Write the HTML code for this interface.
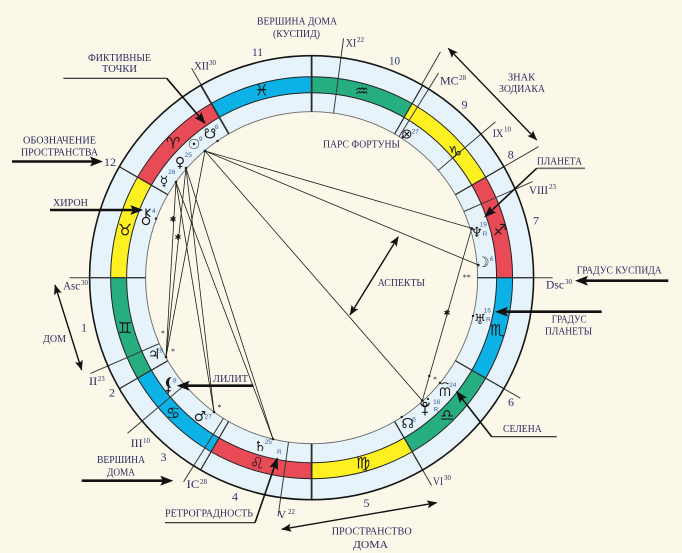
<!DOCTYPE html>
<html><head><meta charset="utf-8">
<style>
html,body{margin:0;padding:0;background:#fbf8e9;}
svg{display:block;}
.l{font-family:"Liberation Serif",serif;font-size:11px;fill:#2b2a5c;}
.n{font-family:"Liberation Serif",serif;font-size:12px;fill:#2a3270;}
.c{font-family:"Liberation Serif",serif;font-size:12px;fill:#2b2a5c;}
.s{font-family:"Liberation Serif",serif;font-size:7px;fill:#2b2a5c;}
.g{font-family:"DejaVu Sans",sans-serif;font-size:14px;fill:#1a1a1a;text-anchor:middle;}
.z{font-family:"DejaVu Sans",sans-serif;font-size:16px;fill:#1a1a1a;text-anchor:middle;}
.d{font-family:"Liberation Sans",sans-serif;font-size:6.5px;fill:#3f5fa3;text-anchor:middle;}
.a{font-family:"Liberation Serif",serif;font-size:8px;fill:#222;text-anchor:middle;}
</style></head><body>
<svg width="682" height="553" viewBox="0 0 682 553" xmlns="http://www.w3.org/2000/svg">
<defs>
<marker id="big" viewBox="0 0 13 10" refX="7" refY="5" markerWidth="13" markerHeight="10" markerUnits="userSpaceOnUse" orient="auto"><path d="M0,0 L13,5 L0,10 L2.5,5 Z" fill="#111"/></marker>
<marker id="md" viewBox="0 0 12 9" refX="11" refY="4.5" markerWidth="12" markerHeight="9" markerUnits="userSpaceOnUse" orient="auto"><path d="M0,0 L12,4.5 L0,9 L2,4.5 Z" fill="#111"/></marker>
<marker id="sm" viewBox="0 0 10 8" refX="9.5" refY="4" markerWidth="10" markerHeight="8" markerUnits="userSpaceOnUse" orient="auto-start-reverse"><path d="M0,0 L10,4 L0,8 L2,4 Z" fill="#111"/></marker>
</defs>
<rect width="682" height="553" fill="#fbf8e9"/>

<g transform="translate(311.6,277.7)">
  <circle r="222" fill="#e7f3fb"/>
  <g>
    <path d="M201,0 A201,201 0 0 0 174.07,-100.5 L160.21,-92.5 A185,185 0 0 1 185,0 Z" fill="#e84b55" transform="rotate(0)"/>
    <path d="M201,0 A201,201 0 0 0 174.07,-100.5 L160.21,-92.5 A185,185 0 0 1 185,0 Z" fill="#fff022" transform="rotate(-30)"/>
    <path d="M201,0 A201,201 0 0 0 174.07,-100.5 L160.21,-92.5 A185,185 0 0 1 185,0 Z" fill="#26ad80" transform="rotate(-60)"/>
    <path d="M201,0 A201,201 0 0 0 174.07,-100.5 L160.21,-92.5 A185,185 0 0 1 185,0 Z" fill="#0cb2e6" transform="rotate(-90)"/>
    <path d="M201,0 A201,201 0 0 0 174.07,-100.5 L160.21,-92.5 A185,185 0 0 1 185,0 Z" fill="#e84b55" transform="rotate(-120)"/>
    <path d="M201,0 A201,201 0 0 0 174.07,-100.5 L160.21,-92.5 A185,185 0 0 1 185,0 Z" fill="#fff022" transform="rotate(-150)"/>
    <path d="M201,0 A201,201 0 0 0 174.07,-100.5 L160.21,-92.5 A185,185 0 0 1 185,0 Z" fill="#26ad80" transform="rotate(-180)"/>
    <path d="M201,0 A201,201 0 0 0 174.07,-100.5 L160.21,-92.5 A185,185 0 0 1 185,0 Z" fill="#0cb2e6" transform="rotate(-210)"/>
    <path d="M201,0 A201,201 0 0 0 174.07,-100.5 L160.21,-92.5 A185,185 0 0 1 185,0 Z" fill="#e84b55" transform="rotate(-240)"/>
    <path d="M201,0 A201,201 0 0 0 174.07,-100.5 L160.21,-92.5 A185,185 0 0 1 185,0 Z" fill="#fff022" transform="rotate(-270)"/>
    <path d="M201,0 A201,201 0 0 0 174.07,-100.5 L160.21,-92.5 A185,185 0 0 1 185,0 Z" fill="#26ad80" transform="rotate(-300)"/>
    <path d="M201,0 A201,201 0 0 0 174.07,-100.5 L160.21,-92.5 A185,185 0 0 1 185,0 Z" fill="#0cb2e6" transform="rotate(-330)"/>
  </g>
  <circle r="166" fill="#fbf8e9" stroke="#6a6a6a" stroke-width="0.9"/>
  <circle r="201" fill="none" stroke="#222" stroke-width="1"/>
  <circle r="185" fill="none" stroke="#222" stroke-width="1"/>

  <g stroke="#3a3a3a" stroke-width="1">
    <line x1="166" x2="242" transform="rotate(-180)"/>
    <line x1="166" x2="241" transform="rotate(-203.4)"/>
    <line x1="166" x2="241" transform="rotate(-220.2)"/>
    <line x1="166" x2="241" transform="rotate(-237.9)"/>
    <line x1="166" x2="241" transform="rotate(-262)"/>
    <line x1="166" x2="240" transform="rotate(-300)"/>
    <line x1="166" x2="241" transform="rotate(0)"/>
    <line x1="166" x2="241" transform="rotate(-23.5)"/>
    <line x1="166" x2="241" transform="rotate(-40.3)"/>
    <line x1="166" x2="241" transform="rotate(-58.2)"/>
    <line x1="166" x2="241.5" transform="rotate(-82.4)"/>
    <line x1="166" x2="241.5" transform="rotate(-119.8)"/>
    <line x1="222" x2="262" transform="rotate(-30)"/>
    <line x1="222" x2="260" transform="rotate(-60.3)"/>
    <line x1="222" x2="241" transform="rotate(-330)"/>
  </g>
  <g stroke="#2a2a2a" stroke-width="1.2">
    <line x1="166" x2="222" transform="rotate(0)"/>
    <line x1="166" x2="222" transform="rotate(-30)"/>
    <line x1="166" x2="222" transform="rotate(-60)"/>
    <line x1="166" x2="222" transform="rotate(-90)" stroke-width="1.8"/>
    <line x1="166" x2="222" transform="rotate(-120)"/>
    <line x1="166" x2="222" transform="rotate(-150)"/>
    <line x1="166" x2="222" transform="rotate(-180)"/>
    <line x1="166" x2="222" transform="rotate(-210)"/>
    <line x1="166" x2="222" transform="rotate(-240)"/>
    <line x1="166" x2="222" transform="rotate(-270)" stroke-width="1.8"/>
    <line x1="166" x2="222" transform="rotate(-300)"/>
    <line x1="166" x2="222" transform="rotate(-330)"/>
  </g>
  <circle r="222" fill="none" stroke="#151515" stroke-width="1.6"/>
</g>

<!-- zodiac glyphs -->
<g class="z">
  <text x="261.7" y="95.5">&#x2653;&#xFE0E;</text>
  <text x="361.7" y="96.5">&#x2652;&#xFE0E;</text>
  <text x="455" y="157.5">&#x2651;&#xFE0E;</text>
  <text x="500" y="235.5">&#x2650;&#xFE0E;</text>
  <text x="497" y="335.5">&#x264F;&#xFE0E;</text>
  <text x="447" y="420.5">&#x264E;&#xFE0E;</text>
  <text x="363" y="468.5">&#x264D;&#xFE0E;</text>
  <text x="257" y="468.5">&#x264C;&#xFE0E;</text>
  <text x="173" y="418.5">&#x264B;&#xFE0E;</text>
  <text x="125" y="333.5">&#x264A;&#xFE0E;</text>
  <text x="125" y="235.5">&#x2649;&#xFE0E;</text>
  <text x="173" y="148.5">&#x2648;&#xFE0E;</text>
</g>

<!-- aspect lines -->
<g stroke="#1e1e1e" stroke-width="0.8">
  <line x1="176" y1="182" x2="166" y2="357"/>
  <line x1="186" y1="168" x2="166" y2="357"/>
  <line x1="205" y1="151" x2="166" y2="357"/>
  <line x1="176" y1="182" x2="214" y2="412"/>
  <line x1="186" y1="168" x2="214" y2="412"/>
  <line x1="176" y1="182" x2="273" y2="439"/>
  <line x1="186" y1="168" x2="273" y2="439"/>
  <line x1="205" y1="151" x2="471.7" y2="228.3"/>
  <line x1="205" y1="151" x2="478.3" y2="265"/>
  <line x1="205" y1="151" x2="422.3" y2="400.7"/>
  <line x1="422.3" y1="400.7" x2="471.7" y2="228.3"/>
</g>
<g fill="#1e1e1e">
  <circle cx="205" cy="151" r="1.4"/><circle cx="186" cy="168" r="1.3"/><circle cx="176" cy="182" r="1.3"/>
  <circle cx="217.5" cy="141" r="1.2"/><circle cx="156" cy="218.7" r="1.2"/><circle cx="166" cy="357" r="1.3"/>
  <circle cx="214" cy="412" r="1.3"/><circle cx="273" cy="439" r="1.3"/><circle cx="401.7" cy="417" r="1.2"/>
  <circle cx="422.3" cy="400.7" r="1.4"/><circle cx="428" cy="399" r="1.1"/><circle cx="440" cy="383" r="1.2"/>
  <circle cx="473" cy="316" r="1.2"/><circle cx="478.3" cy="265" r="1.3"/><circle cx="471.7" cy="228.3" r="1.3"/>
  <circle cx="402.7" cy="137.3" r="1.2"/><circle cx="429.3" cy="376" r="1.2"/>
</g>
<g stroke="#111" stroke-width="1.2">
  <path d="M173,216 L173,222 M170.4,217.5 L175.6,220.5 M170.4,220.5 L175.6,217.5"/>
  <path d="M178,234 L178,240 M175.4,235.5 L180.6,238.5 M175.4,238.5 L180.6,235.5"/>
  <path d="M447,309.7 L447,315.7 M444.4,311.2 L449.6,314.2 M444.4,314.2 L449.6,311.2"/>
</g>
<g class="a">
  <text x="163" y="336">*</text>
  <text x="173" y="354">*</text>
  <text x="219.5" y="410">*</text>
  <text x="435" y="382">*</text>
  <text x="466.7" y="280">**</text>
</g>

<!-- planet glyphs -->
<g class="g">
  <text x="210" y="138.5">&#x260B;&#xFE0E;</text>
  <text x="194" y="149">&#x2609;&#xFE0E;</text>
  <text x="180" y="167">&#x2640;&#xFE0E;</text>
  <text x="164" y="186">&#x263F;&#xFE0E;</text>
  <text x="154" y="359">&#x2643;&#xFE0E;</text>
  <text x="200" y="421">&#x2642;&#xFE0E;</text>
  <text x="260" y="451">&#x2644;&#xFE0E;</text>
  <text x="407.7" y="428">&#x260A;&#xFE0E;</text>
  <text x="480" y="324">&#x2645;&#xFE0E;</text>
  <text x="483.3" y="267">&#x263D;&#xFE0E;</text>
  <text x="476.7" y="237">&#x2646;&#xFE0E;</text>
  <text x="406.7" y="138.5">&#x2297;</text>
</g>
<!-- Pluto (circle over crescent over cross) -->
<g stroke="#1a1a1a" stroke-width="1.2" fill="none">
  <circle cx="425" cy="404.3" r="1.9"/>
  <path d="M420.8,402.5 A4.2,4.2 0 0 0 429.2,402.5"/>
  <path d="M425,406.8 L425,415.5 M422.2,412.3 L427.8,412.3"/>
</g>
<!-- Chiron -->
<g stroke="#1a1a1a" stroke-width="1.2" fill="none">
  <circle cx="146" cy="221" r="3.6"/>
  <path d="M146,217.4 L146,208.5 M146,213 L150.5,208.8 M146,213 L150.3,216.8"/>
</g>
<!-- Lilith -->
<g>
  <path d="M171.5,377 A5.6,5.6 0 1 0 171.5,388.2 A7.5,7.5 0 0 1 171.5,377 Z" fill="#1a1a1a"/>
  <path d="M168.3,387.5 L168.3,393.5 M166,390.7 L170.6,390.7" stroke="#1a1a1a" stroke-width="1.3"/>
</g>
<!-- Selena -->
<g stroke="#1a1a1a" stroke-width="1.1" fill="none">
  <path d="M441.5,384 Q445,381.5 448.5,384"/>
  <path d="M440.5,396 L440.5,389.5 Q442.7,386 445,389.5 L445,396 M445,389.5 Q447.3,386 449.5,389.5 L449.5,396"/>
</g>

<!-- planet degrees -->
<g class="d">
  <text x="216.7" y="129">6</text>
  <text x="200.7" y="140.8">9</text>
  <text x="188.3" y="156.8">25</text>
  <text x="171.7" y="174.2">26</text>
  <text x="153.8" y="213.2">4</text>
  <text x="159.5" y="352.5">29</text>
  <text x="174.8" y="382.5">8</text>
  <text x="208.3" y="418.5">27</text>
  <text x="268.3" y="444.2">25</text>
  <text x="279.3" y="454.2">R</text>
  <text x="414" y="421.5">6</text>
  <text x="436.7" y="404.2">16</text>
  <text x="436" y="411.5">R</text>
  <text x="452.7" y="386.8">24</text>
  <text x="487.3" y="312.5">16</text>
  <text x="488.3" y="321.5">R</text>
  <text x="491.7" y="260.8">6</text>
  <text x="483.3" y="226.5">19</text>
  <text x="485" y="235.8">R</text>
  <text x="415.3" y="133.5">27</text>
</g>

<!-- house numbers -->
<g class="n">
  <text x="252" y="56" textLength="11" lengthAdjust="spacingAndGlyphs">11</text>
  <text x="389" y="64.5" textLength="11" lengthAdjust="spacingAndGlyphs">10</text>
  <text x="461.5" y="108.5">9</text>
  <text x="507.7" y="158.5">8</text>
  <text x="533" y="224.5">7</text>
  <text x="104" y="166" textLength="12" lengthAdjust="spacingAndGlyphs">12</text>
  <text x="81" y="331.5">1</text>
  <text x="109" y="396.5">2</text>
  <text x="160.5" y="461">3</text>
  <text x="232" y="500.5">4</text>
  <text x="363.5" y="507">5</text>
  <text x="508" y="406">6</text>
</g>

<!-- cusp labels -->
<g class="c">
  <text x="194" y="69.5" textLength="15" lengthAdjust="spacingAndGlyphs">XII</text>
  <text x="345.7" y="46.5" textLength="10.5" lengthAdjust="spacingAndGlyphs">XI</text>
  <text x="440" y="84.5" textLength="18.7" lengthAdjust="spacingAndGlyphs">MC</text>
  <text x="492.7" y="136.8" textLength="10.6" lengthAdjust="spacingAndGlyphs">IX</text>
  <text x="529" y="193.8" textLength="19" lengthAdjust="spacingAndGlyphs">VIII</text>
  <text x="546" y="288.5" textLength="18" lengthAdjust="spacingAndGlyphs">Dsc</text>
  <text x="433" y="485" textLength="10" lengthAdjust="spacingAndGlyphs">VI</text>
  <text x="278" y="518.5" textLength="8" lengthAdjust="spacingAndGlyphs">V</text>
  <text x="186.7" y="488" textLength="12.6" lengthAdjust="spacingAndGlyphs">IC</text>
  <text x="130.7" y="447" textLength="12" lengthAdjust="spacingAndGlyphs">III</text>
  <text x="89" y="385" textLength="8.3" lengthAdjust="spacingAndGlyphs">II</text>
  <text x="63.3" y="289.5" textLength="16.7" lengthAdjust="spacingAndGlyphs">Asc</text>
</g>
<g class="s">
  <text x="209" y="65">30</text>
  <text x="357" y="42">22</text>
  <text x="459" y="80">28</text>
  <text x="504" y="131.5">10</text>
  <text x="549" y="189">23</text>
  <text x="565" y="284">30</text>
  <text x="444" y="480">30</text>
  <text x="288" y="514">22</text>
  <text x="200" y="484">28</text>
  <text x="143" y="443">10</text>
  <text x="97.7" y="381">23</text>
  <text x="81" y="285">30</text>
</g>

<!-- annotation labels -->
<g class="l">
  <text x="257" y="24.4" textLength="80" lengthAdjust="spacingAndGlyphs">ВЕРШИНА ДОМА</text>
  <text x="273" y="37" textLength="47" lengthAdjust="spacingAndGlyphs">(КУСПИД)</text>
  <text x="88" y="61" textLength="63" lengthAdjust="spacingAndGlyphs">ФИКТИВНЫЕ</text>
  <text x="102" y="72" textLength="35" lengthAdjust="spacingAndGlyphs">ТОЧКИ</text>
  <text x="23" y="143.7" textLength="73" lengthAdjust="spacingAndGlyphs">ОБОЗНАЧЕНИЕ</text>
  <text x="21" y="155.4" textLength="77" lengthAdjust="spacingAndGlyphs">ПРОСТРАНСТВА</text>
  <text x="53" y="206" textLength="35" lengthAdjust="spacingAndGlyphs">ХИРОН</text>
  <text x="43" y="342" textLength="23" lengthAdjust="spacingAndGlyphs">ДОМ</text>
  <text x="213" y="382" textLength="35" lengthAdjust="spacingAndGlyphs">ЛИЛИТ</text>
  <text x="97" y="463" textLength="48" lengthAdjust="spacingAndGlyphs">ВЕРШИНА</text>
  <text x="107" y="475.4" textLength="28" lengthAdjust="spacingAndGlyphs">ДОМА</text>
  <text x="165" y="516.5" textLength="88" lengthAdjust="spacingAndGlyphs">РЕТРОГРАДНОСТЬ</text>
  <text x="331.7" y="534.4" textLength="80" lengthAdjust="spacingAndGlyphs">ПРОСТРАНСТВО</text>
  <text x="353" y="548" textLength="35" lengthAdjust="spacingAndGlyphs">ДОМА</text>
  <text x="503" y="432" textLength="38.7" lengthAdjust="spacingAndGlyphs">СЕЛЕНА</text>
  <text x="551.7" y="322.7" textLength="35" lengthAdjust="spacingAndGlyphs">ГРАДУС</text>
  <text x="545" y="334.4" textLength="47" lengthAdjust="spacingAndGlyphs">ПЛАНЕТЫ</text>
  <text x="576.7" y="273.7" textLength="85" lengthAdjust="spacingAndGlyphs">ГРАДУС КУСПИДА</text>
  <text x="537" y="164.4" textLength="45" lengthAdjust="spacingAndGlyphs">ПЛАНЕТА</text>
  <text x="508" y="80.4" textLength="27" lengthAdjust="spacingAndGlyphs">ЗНАК</text>
  <text x="499" y="92" textLength="46" lengthAdjust="spacingAndGlyphs">ЗОДИАКА</text>
  <text x="323" y="147.7" textLength="77" lengthAdjust="spacingAndGlyphs">ПАРС ФОРТУНЫ</text>
  <text x="377.7" y="286" textLength="47.3" lengthAdjust="spacingAndGlyphs">АСПЕКТЫ</text>
</g>

<!-- thick arrows -->
<g stroke="#111" stroke-width="2.6" fill="none">
  <line x1="12" y1="161.5" x2="97" y2="161.5" marker-end="url(#big)"/>
  <line x1="50" y1="210" x2="137.3" y2="210" marker-end="url(#big)"/>
  <line x1="253.3" y1="385.7" x2="182.7" y2="385.7" marker-end="url(#big)"/>
  <line x1="81.7" y1="480.7" x2="167.3" y2="480.7" marker-end="url(#big)"/>
  <line x1="601.7" y1="311.7" x2="501" y2="311.7" marker-end="url(#big)"/>
  <line x1="668.3" y1="280.7" x2="581" y2="280.7" marker-end="url(#big)"/>
</g>
<!-- elbow arrows -->
<g stroke="#222" stroke-width="1.2" fill="none">
  <line x1="63.3" y1="78.3" x2="166.7" y2="78.3"/>
  <line x1="585" y1="168.3" x2="536.7" y2="168.3" stroke="#6e6e6e" stroke-width="1.6"/>
  <line x1="556.7" y1="436.7" x2="491.7" y2="436.7"/>
  <line x1="165" y1="522.7" x2="255" y2="522.7"/>
</g>
<g stroke="#111" stroke-width="1.6" fill="none">
  <line x1="166.7" y1="78.3" x2="205" y2="123.3" marker-end="url(#md)"/>
  <line x1="536.7" y1="168.3" x2="485" y2="216.7" marker-end="url(#md)"/>
  <line x1="491.7" y1="436.7" x2="456.7" y2="391.7" marker-end="url(#md)"/>
  <line x1="255" y1="522.7" x2="277.3" y2="458.3" marker-end="url(#md)"/>
</g>
<!-- double arrows -->
<g stroke="#111" stroke-width="1.4" fill="none">
  <line x1="448.3" y1="48.3" x2="536.7" y2="140" marker-start="url(#sm)" marker-end="url(#sm)"/>
  <line x1="55" y1="285" x2="81.7" y2="370" marker-start="url(#sm)" marker-end="url(#sm)"/>
  <line x1="281.7" y1="529.3" x2="436.7" y2="502.7" marker-start="url(#sm)" marker-end="url(#sm)"/>
  <line x1="350" y1="315" x2="398.3" y2="236.7" marker-start="url(#sm)" marker-end="url(#sm)"/>
</g>
</svg>
</body></html>
